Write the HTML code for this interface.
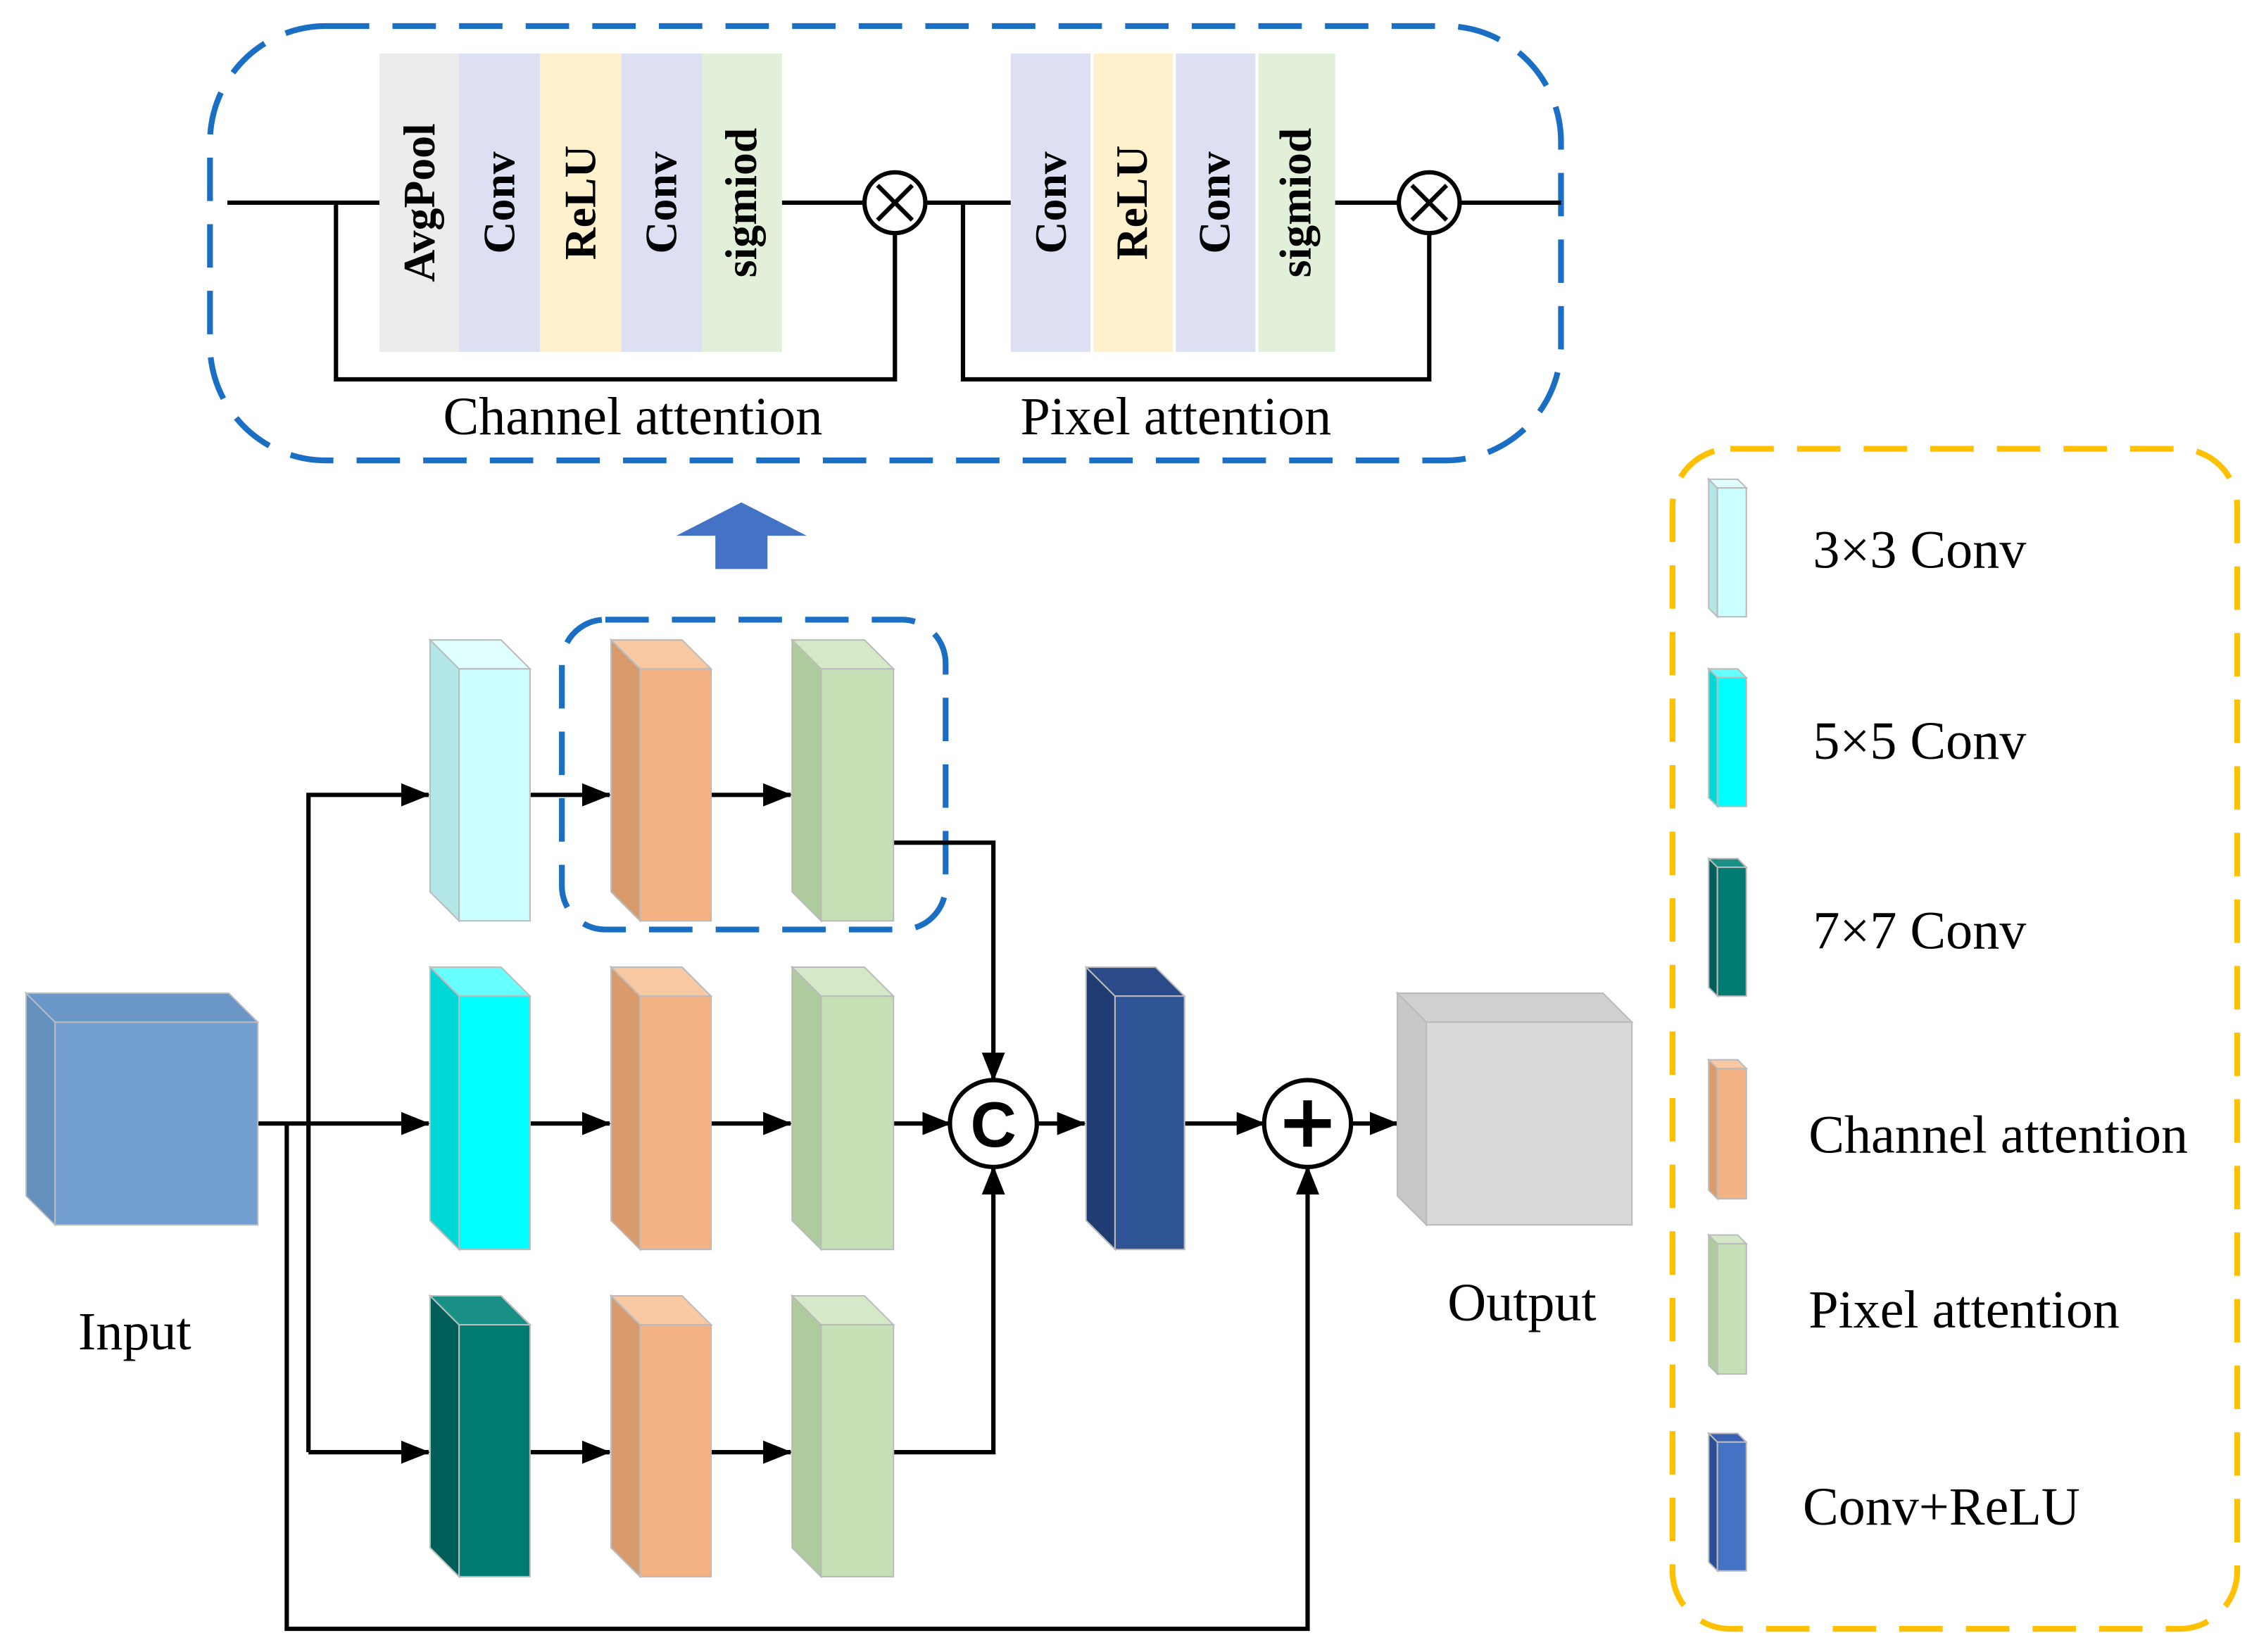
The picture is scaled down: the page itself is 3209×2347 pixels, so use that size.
<!DOCTYPE html>
<html><head><meta charset="utf-8"><style>html,body{margin:0;padding:0;background:#fff}svg{display:block}</style></head><body>
<svg xmlns="http://www.w3.org/2000/svg" width="3209" height="2347" viewBox="0 0 1560 1141" font-family="Liberation Serif, serif">
<defs>
<marker id="ar" viewBox="0 0 20 16" refX="19" refY="8" markerWidth="20" markerHeight="16" orient="auto" markerUnits="userSpaceOnUse">
<path d="M0,0 L20,8 L0,16 z" fill="#000"/>
</marker>
</defs>
<rect width="1560" height="1141" fill="#fff"/>
<rect x="145" y="18" width="933" height="300" rx="80" fill="none" stroke="#1a6fc4" stroke-width="4" stroke-dasharray="30,16"/>
<g stroke="#000" stroke-width="3" fill="none">
<path d="M157,140 H262 M232,140 V262 H618 V161 M540,140 H597 M639,140 H698 M665,140 V262 H987 V161 M922,140 H966 M1008,140 H1078"/>
</g>
<g stroke="#000" stroke-width="3" fill="#fff">
<circle cx="618" cy="140" r="21"/><circle cx="987" cy="140" r="21"/>
<path d="M606,128 L630,152 M630,128 L606,152 M975,128 L999,152 M999,128 L975,152"/>
</g>
<g>
<rect x="262" y="37" width="55" height="206" fill="#ececec"/>
<rect x="317" y="37" width="56" height="206" fill="#dde0f3"/>
<rect x="373" y="37" width="56" height="206" fill="#fff1cc"/>
<rect x="429" y="37" width="56" height="206" fill="#dde0f3"/>
<rect x="485" y="37" width="55" height="206" fill="#e2efd9"/>
<rect x="698" y="37" width="55" height="206" fill="#dde0f3"/>
<rect x="755" y="37" width="55" height="206" fill="#fff1cc"/>
<rect x="812" y="37" width="55" height="206" fill="#dde0f3"/>
<rect x="869" y="37" width="53" height="206" fill="#e2efd9"/>
</g>
<g font-size="31" font-weight="bold" text-anchor="middle" fill="#000">
<text transform="translate(300,140) rotate(-90)">AvgPool</text>
<text transform="translate(355,140) rotate(-90)">Conv</text>
<text transform="translate(411,140) rotate(-90)">ReLU</text>
<text transform="translate(467,140) rotate(-90)">Conv</text>
<text transform="translate(522,140) rotate(-90)">sigmiod</text>
<text transform="translate(736,140) rotate(-90)">Conv</text>
<text transform="translate(792,140) rotate(-90)">ReLU</text>
<text transform="translate(849,140) rotate(-90)">Conv</text>
<text transform="translate(905,140) rotate(-90)">sigmiod</text>
</g>
<g font-size="37" text-anchor="middle" fill="#000">
<text x="437" y="300">Channel attention</text>
<text x="812" y="300">Pixel attention</text>
</g>
<polygon points="512,347 557,370 530,370 530,393 494,393 494,370 467,370" fill="#4472c4"/>
<rect x="388" y="428" width="265" height="214" rx="30" fill="none" stroke="#1a6fc4" stroke-width="4" stroke-dasharray="30,16"/>
<g stroke="#000" stroke-width="3" fill="none">
<path d="M178,776 H296" marker-end="url(#ar)"/>
<path d="M213,1003 V549 H296" marker-end="url(#ar)"/>
<path d="M213,1003 H296" marker-end="url(#ar)"/>
<path d="M198,776 V1125 H903 V806" marker-end="url(#ar)"/>
<path d="M366,549 H421" marker-end="url(#ar)"/>
<path d="M491,549 H546" marker-end="url(#ar)"/>
<path d="M366,776 H421" marker-end="url(#ar)"/>
<path d="M491,776 H546" marker-end="url(#ar)"/>
<path d="M366,1003 H421" marker-end="url(#ar)"/>
<path d="M491,1003 H546" marker-end="url(#ar)"/>
<path d="M617,582 H686 V746" marker-end="url(#ar)"/>
<path d="M617,776 H656" marker-end="url(#ar)"/>
<path d="M617,1003 H686 V806" marker-end="url(#ar)"/>
<path d="M716,776 H749" marker-end="url(#ar)"/>
<path d="M818,776 H873" marker-end="url(#ar)"/>
<path d="M933,776 H965" marker-end="url(#ar)"/>
</g>
<g stroke="#000" stroke-width="3" fill="#fff">
<circle cx="686" cy="776" r="30"/><circle cx="903" cy="776" r="30"/>
</g>
<text x="686" y="792" font-family="Liberation Sans, sans-serif" font-weight="bold" font-size="44" text-anchor="middle">C</text>
<path d="M887,776 H919 M903,760 V792" stroke="#000" stroke-width="6"/>
<g stroke="#bbb" stroke-width="1">
<polygon points="297,442 317,462 317,636 297,616" fill="#b3e6e6"/><polygon points="297,442 346,442 366,462 317,462" fill="#e0ffff"/><rect x="317" y="462" width="49" height="174" fill="#ccffff"/>
<polygon points="422,442 442,462 442,636 422,616" fill="#d99a6c"/><polygon points="422,442 471,442 491,462 442,462" fill="#f8c8a3"/><rect x="442" y="462" width="49" height="174" fill="#f4b183"/>
<polygon points="547,442 567,462 567,636 547,616" fill="#aecb9d"/><polygon points="547,442 597,442 617,462 567,462" fill="#d5e9c8"/><rect x="567" y="462" width="50" height="174" fill="#c5e0b4"/>
<polygon points="297,668 317,688 317,863 297,843" fill="#00d8d8"/><polygon points="297,668 346,668 366,688 317,688" fill="#66ffff"/><rect x="317" y="688" width="49" height="175" fill="#00ffff"/>
<polygon points="422,668 442,688 442,863 422,843" fill="#d99a6c"/><polygon points="422,668 471,668 491,688 442,688" fill="#f8c8a3"/><rect x="442" y="688" width="49" height="175" fill="#f4b183"/>
<polygon points="547,668 567,688 567,863 547,843" fill="#aecb9d"/><polygon points="547,668 597,668 617,688 567,688" fill="#d5e9c8"/><rect x="567" y="688" width="50" height="175" fill="#c5e0b4"/>
<polygon points="297,895 317,915 317,1089 297,1069" fill="#005f58"/><polygon points="297,895 346,895 366,915 317,915" fill="#1a8f86"/><rect x="317" y="915" width="49" height="174" fill="#007b72"/>
<polygon points="422,895 442,915 442,1089 422,1069" fill="#d99a6c"/><polygon points="422,895 471,895 491,915 442,915" fill="#f8c8a3"/><rect x="442" y="915" width="49" height="174" fill="#f4b183"/>
<polygon points="547,895 567,915 567,1089 547,1069" fill="#aecb9d"/><polygon points="547,895 597,895 617,915 567,915" fill="#d5e9c8"/><rect x="567" y="915" width="50" height="174" fill="#c5e0b4"/>
<polygon points="750,668 770,688 770,863 750,843" fill="#1f3d73"/><polygon points="750,668 798,668 818,688 770,688" fill="#2a4a8a"/><rect x="770" y="688" width="48" height="175" fill="#2f5597"/>
<polygon points="18,686 38,706 38,846 18,826" fill="#6690bd"/><polygon points="18,686 158,686 178,706 38,706" fill="#6a97c7"/><rect x="38" y="706" width="140" height="140" fill="#729fcf"/>
<polygon points="965,686 985,706 985,846 965,826" fill="#c8c8c8"/><polygon points="965,686 1107,686 1127,706 985,706" fill="#d0d0d0"/><rect x="985" y="706" width="142" height="140" fill="#d9d9d9"/>
</g>
<g font-size="37" text-anchor="middle" fill="#000">
<text x="93" y="932">Input</text>
<text x="1051" y="912">Output</text>
</g>
<rect x="1155" y="310" width="390" height="815" rx="40" fill="none" stroke="#ffc000" stroke-width="4" stroke-dasharray="30,16"/>
<g stroke="#bbb" stroke-width="1">
<polygon points="1180,331 1186,337 1186,426 1180,420" fill="#b3e6e6"/><polygon points="1180,331 1200,331 1206,337 1186,337" fill="#e0ffff"/><rect x="1186" y="337" width="20" height="89" fill="#ccffff"/>
<polygon points="1180,462 1186,468 1186,557 1180,551" fill="#00d8d8"/><polygon points="1180,462 1200,462 1206,468 1186,468" fill="#66ffff"/><rect x="1186" y="468" width="20" height="89" fill="#00ffff"/>
<polygon points="1180,593 1186,599 1186,688 1180,682" fill="#005f58"/><polygon points="1180,593 1200,593 1206,599 1186,599" fill="#1a8f86"/><rect x="1186" y="599" width="20" height="89" fill="#007b72"/>
<polygon points="1180,732 1186,738 1186,828 1180,822" fill="#d99a6c"/><polygon points="1180,732 1200,732 1206,738 1186,738" fill="#f8c8a3"/><rect x="1186" y="738" width="20" height="90" fill="#f4b183"/>
<polygon points="1180,853 1186,859 1186,949 1180,943" fill="#aecb9d"/><polygon points="1180,853 1200,853 1206,859 1186,859" fill="#d5e9c8"/><rect x="1186" y="859" width="20" height="90" fill="#c5e0b4"/>
<polygon points="1180,990 1186,996 1186,1085 1180,1079" fill="#2a4f94"/><polygon points="1180,990 1200,990 1206,996 1186,996" fill="#3a62b0"/><rect x="1186" y="996" width="20" height="89" fill="#4472c4"/>
</g>
<g font-size="37" fill="#000">
<text x="1252" y="392">3×3 Conv</text>
<text x="1252" y="524">5×5 Conv</text>
<text x="1252" y="655">7×7 Conv</text>
<text x="1249" y="796">Channel attention</text>
<text x="1249" y="917">Pixel attention</text>
<text x="1245" y="1053">Conv+ReLU</text>
</g>
</svg>
</body></html>
